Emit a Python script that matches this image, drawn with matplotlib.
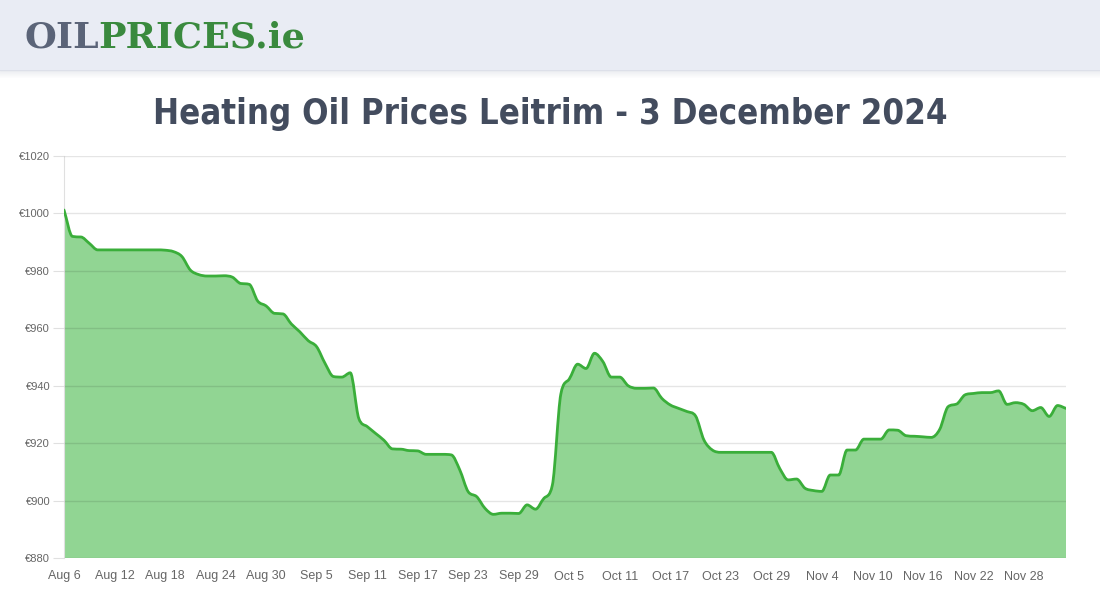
import numpy as np
import matplotlib

matplotlib.use("Agg")  # headless
import matplotlib.pyplot as plt  # noqa: E402
from matplotlib.path import Path  # noqa: E402
from matplotlib.patches import PathPatch, Rectangle  # noqa: E402

# daily prices (EUR), Aug 6 -> Dec 3 2024
prices = [
    1001.2, 992.0, 991.8, 989.6, 987.3, 987.3, 987.3, 987.3, 987.3, 987.3,
    987.3, 987.3, 987.2, 986.7, 985.0, 980.3, 978.7, 978.2, 978.2, 978.3,
    977.8, 975.6, 975.3, 969.5, 967.8, 965.2, 965.0, 961.5, 958.8, 955.7,
    953.6, 947.8, 943.2, 943.0, 944.5, 928.7, 925.8, 923.4, 921.0, 918.0,
    917.9, 917.4, 917.3, 916.1, 916.1, 916.1, 915.9, 910.7, 903.1, 901.4,
    897.3, 895.2, 895.6, 895.6, 895.5, 898.5, 897.0, 900.8, 905.4, 937.0,
    942.3, 947.5, 946.0, 951.3, 948.4, 943.0, 943.0, 940.0, 939.1, 939.1,
    939.2, 935.6, 933.3, 932.1, 931.0, 929.5, 921.1, 917.6, 916.8, 916.8,
    916.8, 916.8, 916.8, 916.8, 916.8, 911.2, 907.2, 907.5, 904.3, 903.5,
    903.2, 908.9, 908.9, 917.6, 917.6, 921.4, 921.4, 921.4, 924.6, 924.5,
    922.6, 922.4, 922.2, 922.0, 924.8, 932.7, 933.6, 936.8, 937.3, 937.6,
    937.6, 938.2, 933.5, 934.1, 933.5, 931.3, 932.4, 929.3, 933.1, 932.1,
]
x_labels = [
    "Aug 6", "Aug 12", "Aug 18", "Aug 24", "Aug 30", "Sep 5", "Sep 11",
    "Sep 17", "Sep 23", "Sep 29", "Oct 5", "Oct 11", "Oct 17", "Oct 23",
    "Oct 29", "Nov 4", "Nov 10", "Nov 16", "Nov 22", "Nov 28",
]
label_step = 6
y_ticks = [880, 900, 920, 940, 960, 980, 1000, 1020]
title = "Heating Oil Prices Leitrim - 3 December 2024"

W, H = 1100, 600
fig = plt.figure(figsize=(11, 6), dpi=100)
fig.patch.set_facecolor("white")
renderer = fig.canvas.get_renderer()


def fit_width(txt, width_px):
    # rescale a text so it spans the width seen in the reference
    w = txt.get_window_extent(renderer).width
    txt.set_fontsize(txt.get_fontsize() * width_px / w)


# header band with soft shadow
band = 70
fig.patches.append(Rectangle((0, 1 - band / H), 1, band / H, transform=fig.transFigure,
                             color="#e9ecf4", zorder=0))
for i in range(8):
    fig.patches.append(Rectangle((0, 1 - (band + i + 1) / H), 1, 1 / H,
                                 transform=fig.transFigure, color="#c8ccd6",
                                 alpha=0.35 * (1 - i / 8), lw=0, zorder=0))

# logo
logo_font = dict(family="DejaVu Serif", weight="heavy", fontsize=26, va="center")
t1 = fig.text(24 / W, 1 - 38 / H, "OIL", color="#5b6478", **logo_font)
t2 = fig.text(0, 1 - 38 / H, "PRICES.ie", color="#3a8a3e", **logo_font)
full = t1.get_window_extent(renderer).width + t2.get_window_extent(renderer).width
for t in (t1, t2):
    t.set_fontsize(t.get_fontsize() * 281 / full)
t2.set_x(t1.get_window_extent(renderer).x1 / W)

ttl = fig.text(0.5, 1 - 114 / H, title, ha="center", va="center", fontsize=38,
               family=["DejaVu Sans"], fontstretch="condensed", weight="bold",
               color="#434c5e")
fit_width(ttl, 794)

ax = fig.add_axes([64 / W, 42 / H, 1002 / W, 402 / H])
x = np.arange(len(prices))
y = np.array(prices)

# monotone cubic bezier through the daily points
d = np.diff(y)
m = np.zeros_like(y)
m[0], m[-1] = d[0], d[-1]
for i in range(1, len(y) - 1):
    m[i] = 0 if d[i - 1] * d[i] <= 0 else (d[i - 1] + d[i]) / 2
for i in range(len(d)):
    if d[i] == 0:
        m[i] = m[i + 1] = 0
        continue
    a, b = m[i] / d[i], m[i + 1] / d[i]
    s = a * a + b * b
    if s > 9:
        t = 3 / np.sqrt(s)
        m[i], m[i + 1] = t * a * d[i], t * b * d[i]

verts = [(x[0], y[0])]
codes = [Path.MOVETO]
for i in range(len(y) - 1):
    verts += [(x[i] + 1 / 3, y[i] + m[i] / 3),
              (x[i + 1] - 1 / 3, y[i + 1] - m[i + 1] / 3),
              (x[i + 1], y[i + 1])]
    codes += [Path.CURVE4] * 3

fill_path = Path(verts + [(x[-1], y_ticks[0]), (x[0], y_ticks[0]), (x[0], y[0])],
                 codes + [Path.LINETO, Path.LINETO, Path.CLOSEPOLY])
ax.add_patch(PathPatch(fill_path, facecolor="#91d593", edgecolor="none", zorder=1))
ax.add_patch(PathPatch(Path(verts, codes), facecolor="none", edgecolor="#3aae3a",
                       lw=2, zorder=3, capstyle="round", joinstyle="round"))

ax.set_xlim(0, len(prices) - 1)
ax.set_ylim(y_ticks[0], y_ticks[-1])
ax.set_xticks(np.arange(len(x_labels)) * label_step)
ax.set_xticklabels(x_labels)
ax.set_yticks(y_ticks)
ax.set_yticklabels([f"€{v}" for v in y_ticks])
ax.grid(axis="y", color="black", alpha=0.1, lw=1)
ax.set_axisbelow(False)
for side in ["top", "right", "bottom"]:
    ax.spines[side].set_visible(False)
ax.spines["left"].set_color("#e0e0e0")
ax.tick_params(axis="y", length=8, color="#e0e0e0", labelsize=8,
               labelcolor="#666666", pad=2)
ax.tick_params(axis="x", length=0, labelsize=9, labelcolor="#666666", pad=9)
for lbl in ax.get_xticklabels() + ax.get_yticklabels():
    lbl.set_family("Liberation Sans")

fig.savefig("out.png", dpi=100)
plt.close(fig)
